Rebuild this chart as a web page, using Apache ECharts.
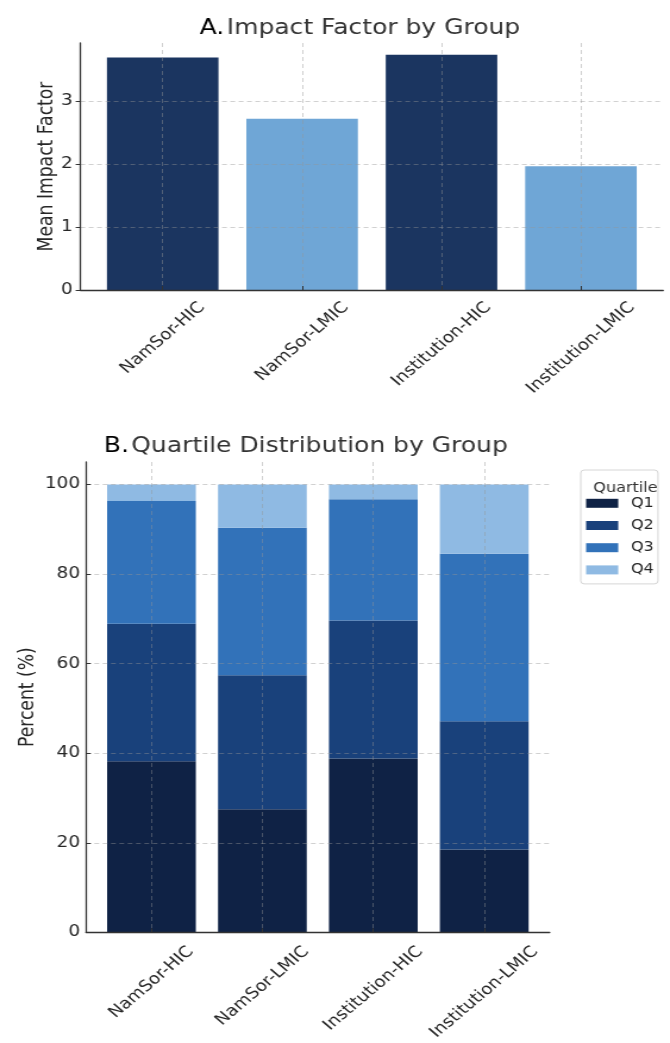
<!DOCTYPE html>
<html><head><meta charset="utf-8">
<script src="https://cdn.jsdelivr.net/npm/echarts@6/dist/echarts.min.js"></script>
<style>
html,body{margin:0;padding:0;background:#fff;overflow:hidden}
#wrap{width:670px;height:1043px;overflow:hidden;position:relative}
#chart{width:563px;height:1043px;transform:scaleX(1.19);transform-origin:0 0}
</style></head>
<body><div id="wrap"><div id="chart"></div></div>
<script>
// ---- data ----
const categories = ['NamSor-HIC', 'NamSor-LMIC', 'Institution-HIC', 'Institution-LMIC'];
const impactFactor = [3.69, 2.72, 3.735, 1.965];
const impactColors = ['#1b3560', '#6fa6d6', '#1b3560', '#6fa6d6'];
const quartileNames = ['Q1', 'Q2', 'Q3', 'Q4'];
const q1 = [38.2, 27.5, 38.8, 18.5];
const q2 = [30.7, 29.9, 30.8, 28.6];
const q3 = [27.4, 32.9, 27.1, 37.4];
const q4 = [3.7, 9.7, 3.3, 15.5];
const quartileColors = ['#0f2245', '#19417b', '#3272b9', '#8fbae3'];
const ticksA = [0, 1, 2, 3];
const ticksB = [0, 20, 40, 60, 80, 100];

// ---- layout helpers ----
const FONT = '"DejaVu Sans", "Noto Sans", sans-serif';
const TICK_FS = 15.5;
const NAME_FS = 17.2;
const TITLE_FS = 21;
const TXT = '#262626';
const xTickValues = categories.map((_, i) => i);
const xMin = -0.4 - 0.05 * (categories.length - 1 + 0.8);
const xMax = categories.length - 1 + 0.4 + 0.05 * (categories.length - 1 + 0.8);
const yMaxA = Math.max(...impactFactor) * 1.05;
const yMaxB = 105;

const cv = document.createElement('canvas').getContext('2d');
cv.font = TICK_FS + 'px ' + FONT;
const rich = {};
categories.forEach((c, i) => {
  const L = cv.measureText(c).width;
  rich['l' + i] = {fontSize: TICK_FS, fontFamily: FONT, color: TXT, padding: [L / 2, L / 2, 0, 0]};
});
const gridLine = {show: true, lineStyle: {color: 'rgba(150,150,150,0.55)', width: 0.8, type: [4, 3]}};
const axisLineStyle = {color: '#333', width: 1.3};

function xAxisCfg(gi, margin) {
  return {
    gridIndex: gi, type: 'value', min: xMin, max: xMax, z: 3,
    axisLine: {show: true, onZero: false, lineStyle: axisLineStyle},
    axisTick: {show: true, inside: true, length: 4, customValues: xTickValues, lineStyle: {color: '#333'}},
    axisLabel: {
      customValues: xTickValues, rotate: 45, align: 'center', verticalAlign: 'middle', margin: margin,
      formatter: v => '{l' + Math.round(v) + '|' + categories[Math.round(v)] + '}', rich: rich
    },
    splitLine: gridLine
  };
}
function yAxisCfg(gi, max, ticks, name, gap, tickInside, labelMargin) {
  return {
    gridIndex: gi, type: 'value', min: 0, max: max, z: 3,
    axisLine: {show: true, onZero: false, lineStyle: axisLineStyle},
    axisTick: {show: true, inside: tickInside, length: 4, customValues: ticks, lineStyle: {color: '#333'}},
    axisLabel: {customValues: ticks, margin: labelMargin, fontSize: TICK_FS, fontFamily: FONT, color: TXT},
    splitLine: gridLine,
    name: name, nameLocation: 'middle', nameGap: gap, nameMoveOverlap: false,
    nameTextStyle: {fontSize: NAME_FS, fontFamily: FONT, color: TXT}
  };
}
const titleRich = {
  a: {fontSize: TITLE_FS, fontWeight: 'normal', fontFamily: FONT, color: '#000'},
  b: {fontSize: TITLE_FS, fontWeight: 'normal', fontFamily: FONT, color: '#333', padding: [0, 0, 0, 2]}
};

const quartileData = [q1, q2, q3, q4];
const chart = echarts.init(document.getElementById('chart'), null, {renderer: 'canvas'});
chart.setOption({
  animation: false,
  backgroundColor: '#fff',
  title: [
    {text: '{a|A.}{b|Impact Factor by Group}', left: 297.5, top: 13, textAlign: 'center',
     textStyle: {fontWeight: 'normal', rich: titleRich}},
    {text: '{a|B.}{b|Quartile Distribution by Group}', left: 252, top: 431, textAlign: 'center',
     textStyle: {fontWeight: 'normal', rich: titleRich}},
    {text: 'Quartile', left: 520.6, top: 476, textAlign: 'center',
     textStyle: {fontSize: 13.5, fontWeight: 'normal', fontFamily: FONT, color: '#333'}}
  ],
  legend: {
    data: quartileNames, orient: 'vertical', left: 488, top: 470,
    padding: [26.3, 3.5, 7, 4.5], itemGap: 8.2, itemWidth: 27, itemHeight: 9, icon: 'rect',
    borderColor: '#d6d6d6', borderWidth: 1, borderRadius: 3, backgroundColor: '#fff',
    textStyle: {fontSize: 13.5, lineHeight: 14, fontFamily: FONT, color: TXT, padding: [0, 0, 0, 5.7]},
    selectedMode: false
  },
  grid: [
    {left: 67.6, top: 43, width: 489.7, height: 247},
    {left: 72.3, top: 462, width: 389.6, height: 471.5}
  ],
  xAxis: [xAxisCfg(0, 15), xAxisCfg(1, 17)],
  yAxis: [
    yAxisCfg(0, yMaxA, ticksA, 'Mean Impact Factor', 20, false, 6.5),
    yAxisCfg(1, yMaxB, ticksB, 'Percent (%)', 40, true, 5)
  ],
  series: [
    {name: 'Impact', type: 'bar', xAxisIndex: 0, yAxisIndex: 0, barWidth: '80%',
     data: impactFactor.map((v, i) => [i, v]),
     itemStyle: {color: p => impactColors[p.dataIndex]}}
  ].concat(quartileNames.map((n, k) => ({
    name: n, type: 'bar', stack: 'q', xAxisIndex: 1, yAxisIndex: 1, barWidth: '80%',
    encode: {x: 1, y: 0},
    data: quartileData[k].map((v, i) => [v, i]),
    itemStyle: {color: quartileColors[k]}
  })))
});
</script></body></html>
